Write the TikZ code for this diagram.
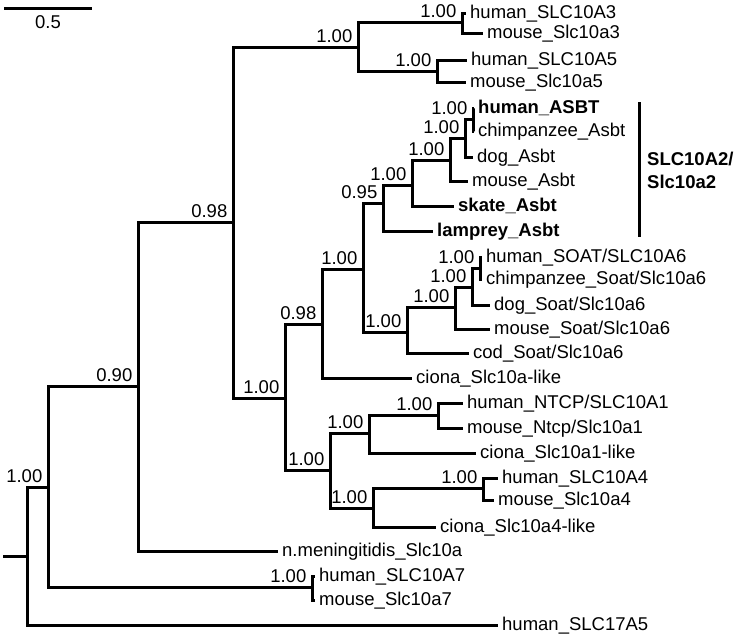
\documentclass[tikz,border=0pt]{standalone}
\usepackage{fontspec}
\setmainfont{Liberation Sans}
\usetikzlibrary{positioning}
\newcommand{\treefont}{\fontsize{18.5}{23}\selectfont}
\tikzset{
  branch/.style={line width=3pt, line join=miter},
  leaf/.style={anchor=west, inner xsep=4pt, inner ysep=0pt,
    text height=10pt, text depth=0pt, font=\treefont},
  boldleaf/.style={leaf, font=\treefont\bfseries},
  supp/.style={anchor=south east, inner sep=0pt, xshift=-5.5pt,
    yshift=4.5pt, font=\treefont},
  cladetext/.style={anchor=west, align=left, inner sep=0pt,
    font=\treefont\bfseries}
}

\begin{document}
\begin{tikzpicture}[x=1pt,y=-1pt]
  \useasboundingbox (0,0) rectangle (738,637);

  % scale bar
  \coordinate (sbL) at (4,8);
  \coordinate (sbR) at (92,8);
  \coordinate (sbmid) at (48,8);
  \draw[branch] (sbL) -- (sbR);
  \node[below=6pt of sbmid, inner sep=1pt, font=\treefont] (sbtxt) {0.5};

  % internal nodes
  \coordinate (root) at (27,556);
  \coordinate (rootstub) at (3,556);
  \coordinate (rA7) at (48,487);
  \coordinate (rNmen) at (138,386);
  \coordinate (rVert) at (233,222);
  \coordinate (cA3A5) at (358,47);
  \coordinate (cA3) at (462,22);
  \coordinate (cA5) at (437,71);
  \coordinate (cBA) at (285,398);
  \coordinate (cAsbtSoat) at (322,324);
  \coordinate (cAS) at (363,269);
  \coordinate (cAsbt) at (383,203);
  \coordinate (cAsbt4) at (412,185);
  \coordinate (cAsbt3) at (450,160);
  \coordinate (cAsbt2) at (465,138);
  \coordinate (cAsbt1) at (473,119);
  \coordinate (cSoat) at (407,332);
  \coordinate (cSoat3) at (455,307);
  \coordinate (cSoat2) at (472,287);
  \coordinate (cSoat1) at (480,268);
  \coordinate (cNA4) at (330,470);
  \coordinate (cNtcpC) at (369,433);
  \coordinate (cNtcp) at (438,415);
  \coordinate (cA4C) at (373,508);
  \coordinate (cA4) at (483,488);
  \coordinate (cA7) at (312,587);

  % leaves
  \node[leaf] (a3h) at (466,13) {human\_SLC10A3};
  \node[leaf] (a3m) at (483,33) {mouse\_Slc10a3};
  \node[leaf] (a5h) at (467,60) {human\_SLC10A5};
  \node[leaf] (a5m) at (466,82) {mouse\_Slc10a5};
  \node[boldleaf] (asbtH) at (474,108) {human\_ASBT};
  \node[leaf] (asbtC) at (474,131) {chimpanzee\_Asbt};
  \node[leaf] (asbtD) at (473,157) {dog\_Asbt};
  \node[leaf] (asbtM) at (468,181) {mouse\_Asbt};
  \node[boldleaf] (asbtS) at (454,206) {skate\_Asbt};
  \node[boldleaf] (asbtL) at (433,231) {lamprey\_Asbt};
  \node[leaf] (soatH) at (482,257) {human\_SOAT/SLC10A6};
  \node[leaf] (soatC) at (482,279) {chimpanzee\_Soat/Slc10a6};
  \node[leaf] (soatD) at (490,305) {dog\_Soat/Slc10a6};
  \node[leaf] (soatM) at (490,329) {mouse\_Soat/Slc10a6};
  \node[leaf] (soatCod) at (469,353) {cod\_Soat/Slc10a6};
  \node[leaf] (cionaA) at (412,378) {ciona\_Slc10a-like};
  \node[leaf] (ntcpH) at (463,403) {human\_NTCP/SLC10A1};
  \node[leaf] (ntcpM) at (463,428) {mouse\_Ntcp/Slc10a1};
  \node[leaf] (cionaA1) at (476,453) {ciona\_Slc10a1-like};
  \node[leaf] (a4h) at (498,478) {human\_SLC10A4};
  \node[leaf] (a4m) at (494,500) {mouse\_Slc10a4};
  \node[leaf] (cionaA4) at (436,527) {ciona\_Slc10a4-like};
  \node[leaf] (nmen) at (278,551) {n.meningitidis\_Slc10a};
  \node[leaf] (a7h) at (315,576) {human\_SLC10A7};
  \node[leaf] (a7m) at (315,600) {mouse\_Slc10a7};
  \node[leaf] (a17) at (498,625) {human\_SLC17A5};

  % branches
  \draw[branch] (rootstub) -- (root);
  \foreach \p/\c in {root/rA7, root/a17, rA7/rNmen, rA7/cA7,
      rNmen/rVert, rNmen/nmen, rVert/cA3A5, rVert/cBA,
      cA3A5/cA3, cA3A5/cA5, cA3/a3h, cA3/a3m, cA5/a5h, cA5/a5m,
      cBA/cAsbtSoat, cBA/cNA4, cAsbtSoat/cAS, cAsbtSoat/cionaA,
      cAS/cAsbt, cAS/cSoat, cAsbt/cAsbt4, cAsbt/asbtL,
      cAsbt4/cAsbt3, cAsbt4/asbtS, cAsbt3/cAsbt2, cAsbt3/asbtM,
      cAsbt2/cAsbt1, cAsbt2/asbtD, cAsbt1/asbtH, cAsbt1/asbtC,
      cSoat/cSoat3, cSoat/soatCod, cSoat3/cSoat2, cSoat3/soatM,
      cSoat2/cSoat1, cSoat2/soatD, cSoat1/soatH, cSoat1/soatC,
      cNA4/cNtcpC, cNA4/cA4C, cNtcpC/cNtcp, cNtcpC/cionaA1,
      cNtcp/ntcpH, cNtcp/ntcpM, cA4C/cA4, cA4C/cionaA4,
      cA4/a4h, cA4/a4m, cA7/a7h, cA7/a7m}
    \draw[branch] (\p) |- (\c);

  % support values
  \foreach \n/\v in {rA7/1.00, rNmen/0.90, rVert/0.98, cA3A5/1.00,
      cA3/1.00, cA5/1.00, cBA/1.00, cAsbtSoat/0.98, cAS/1.00,
      cAsbt/0.95, cAsbt4/1.00, cAsbt3/1.00, cAsbt2/1.00, cAsbt1/1.00,
      cSoat/1.00, cSoat3/1.00, cSoat2/1.00, cSoat1/1.00, cNA4/1.00,
      cNtcpC/1.00, cNtcp/1.00, cA4C/1.00, cA4/1.00, cA7/1.00}
    \node[supp] (s\n) at (\n) {\v};

  % SLC10A2 clade bar
  \coordinate (cbTop) at (639,102);
  \coordinate (cbBot) at (639,237);
  \draw[branch] (cbTop) -- (cbBot);
  \node[cladetext] (clade) at (647,170) {SLC10A2/\\Slc10a2};
\end{tikzpicture}
\end{document}
